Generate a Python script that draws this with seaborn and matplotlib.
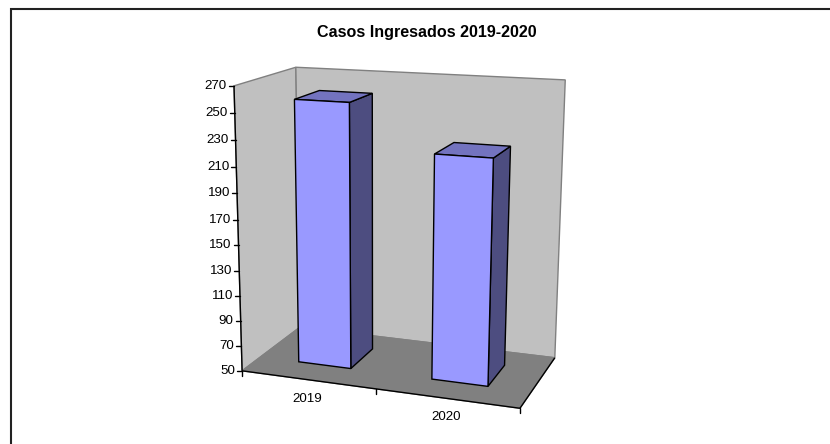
import numpy as np
import pandas as pd
import matplotlib
matplotlib.use("Agg")
import matplotlib.pyplot as plt
from matplotlib.patches import Polygon
from matplotlib.transforms import Transform
import seaborn as sns

years = ["2019", "2020"]
casos = [257, 223]
value_ticks = [50, 70, 90, 110, 130, 150, 170, 190, 210, 230, 250, 270]

U0, U1 = -0.5, 1.5
V0, V1 = 50, 270
DEPTH_A, DEPTH_B = 0.30, 0.73

# pixel positions of the chart box corners: (u, v, w) -> (px, py)
corners = [
    ((U0, V0, 0), (243, 370)), ((U1, V0, 0), (520, 409)),
    ((U0, V1, 0), (233, 86)),  ((U0, V0, 1), (299, 328)),
    ((U1, V0, 1), (555, 357)), ((U0, V1, 1), (297, 67)),
    ((U1, V1, 1), (565, 80)),
]

# least squares fit of the camera matrix
rows, rhs = [], []
for (u, v, w), (px, py) in corners:
    v = v / 100
    rows.append([u, v, w, 1, 0, 0, 0, 0, -px*u, -px*v, -px*w])
    rhs.append(px)
    rows.append([0, 0, 0, 0, u, v, w, 1, -py*u, -py*v, -py*w])
    rhs.append(py)
cam = np.linalg.lstsq(np.array(rows, float), np.array(rhs, float), rcond=None)[0]
cam = np.append(cam, 1).reshape(3, 4)


def project(u, v, w):
    p = cam @ np.array([u, v / 100, w, 1.0])
    return p[0] / p[2], p[1] / p[2]


class FacePlane(Transform):
    # maps (category, value) at a fixed depth onto the picture
    input_dims = output_dims = 2

    def __init__(self, plane_w):
        super().__init__()
        self.plane_w = plane_w

    def transform_non_affine(self, values):
        return np.array([project(u, v, self.plane_w) for u, v in values])


sns.set_theme(style="white")
plt.rcParams["font.family"] = ["Liberation Sans", "DejaVu Sans"]

fig = plt.figure(figsize=(8.3, 4.44), dpi=100)
ax = fig.add_axes([0, 0, 1, 1])

df = pd.DataFrame({"anio": years, "casos": casos})
sns.barplot(data=df, x="anio", y="casos", width=0.4, color="#9999FF", saturation=1,
            edgecolor="black", linewidth=1.0, ax=ax, zorder=6)
bars = list(ax.patches)
ax.set_xlim(0, 830)
ax.set_ylim(444, 0)
ax.axis("off")


def face(points, color, edge, lw=1.0, z=2):
    ax.add_patch(Polygon([project(*p) for p in points], closed=True, facecolor=color,
                         edgecolor=edge, linewidth=lw, zorder=z))


# walls and floor
face([(U0, V0, 0), (U0, V1, 0), (U0, V1, 1), (U0, V0, 1)], "#C0C0C0", "#808080")
face([(U0, V0, 1), (U0, V1, 1), (U1, V1, 1), (U1, V0, 1)], "#C0C0C0", "#808080")
face([(U0, V0, 0), (U1, V0, 0), (U1, V0, 1), (U0, V0, 1)], "#808080", "#808080")


def line(a, b, lw=1.0, color="black", z=3):
    pa, pb = project(*a), project(*b)
    ax.plot([pa[0], pb[0]], [pa[1], pb[1]], color=color, lw=lw, zorder=z,
            solid_capstyle="butt")


line((U0, V0, 0), (U1, V0, 0))
line((U1, V0, 0), (U1, V0, 1))
line((U0, V0, 0), (U0, V1, 0))

# value axis
for t in value_ticks:
    x, y = project(U0, t, 0)
    ax.plot([x - 5, x], [y, y], color="black", lw=1.0, zorder=3)
    ax.text(x - 7, y, str(t), ha="right", va="center", fontsize=9.6, color="black")

# category axis
for u in [U0, 0.5, U1]:
    x, y = project(u, V0, 0)
    ax.plot([x, x], [y, y + 5], color="black", lw=1.0, zorder=3)
for i, name in enumerate(years):
    x, y = project(i, V0, 0)
    ax.text(x, y + 19, name, ha="center", va="center", fontsize=9.6, color="black")

# bars: the front face comes from seaborn, sides and tops follow it
for bar, val in zip(bars, casos):
    left, right = bar.get_x(), bar.get_x() + bar.get_width()
    bar.set_y(V0)
    bar.set_height(val - V0)
    bar.set_transform(FacePlane(DEPTH_A) + ax.transData)
    face([(right, V0, DEPTH_A), (right, val, DEPTH_A), (right, val, DEPTH_B), (right, V0, DEPTH_B)],
         "#4D4D80", "black", z=5)
    face([(left, val, DEPTH_A), (right, val, DEPTH_A), (right, val, DEPTH_B), (left, val, DEPTH_B)],
         "#7373BF", "black", z=5)

ax.text(426.5, 32, "Casos Ingresados 2019-2020", ha="center", va="center",
        fontsize=11.6, fontweight="bold", color="black")

# outer chart frame, cut by the picture edges
ax.plot([11, 11, 830], [444, 9, 9], color="#222222", lw=1.5, zorder=1,
        solid_joinstyle="miter")

fig.savefig("out.png", dpi=100)
